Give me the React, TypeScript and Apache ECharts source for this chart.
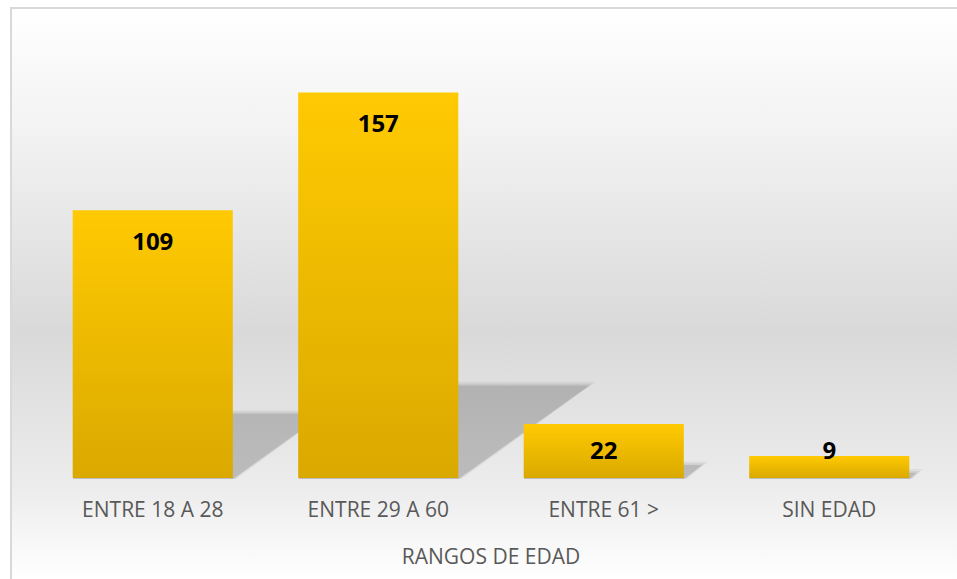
import React, { useEffect, useRef } from "react";
import * as echarts from "echarts";

const categories = ["ENTRE 18 A 28", "ENTRE 29 A 60", "ENTRE 61 >", "SIN EDAD"];
const values = [109, 157, 22, 9];
const axisName = "RANGOS DE EDAD";

export default function App() {
  const ref = useRef<HTMLDivElement>(null);
  useEffect(() => {
    if (!ref.current) return;
    const chart = echarts.init(ref.current, null, { renderer: "svg" });
    const labelDistance = (v: number) => {
      const px = v * 2.455;
      if (px >= 60) return 18;
      if (px >= 40) return 14;
      return -18;
    };
    const layers = [
      { grow: 6, alpha: 0.05 },
      { grow: 3, alpha: 0.06 },
      { grow: 0, alpha: 0.1 },
    ];
    chart.setOption({
      animation: false,
      backgroundColor: "#ffffff",
      graphic: [
        {
          type: "rect",
          z: -10,
          silent: true,
          shape: { x: 11, y: 8, width: 960, height: 590 },
          style: {
            fill: new echarts.graphic.LinearGradient(0, 0, 0, 1, [
              { offset: 0, color: "#ffffff" },
              { offset: 0.2, color: "#f3f3f3" },
              { offset: 0.55, color: "#d9d9d9" },
              { offset: 0.82, color: "#ededed" },
              { offset: 0.97, color: "#ffffff" },
              { offset: 1, color: "#ffffff" },
            ]),
            stroke: "#d9d9d9",
            lineWidth: 2,
          },
        },
      ],
      grid: { left: 40, right: 15, top: 36, bottom: 101 },
      xAxis: {
        type: "category",
        data: categories,
        name: axisName,
        nameLocation: "middle",
        nameGap: 67,
        nameTextStyle: { color: "#595959", fontSize: 21, fontFamily: "Open Sans" },
        axisLine: { show: false },
        axisTick: { show: false },
        axisLabel: { color: "#595959", fontSize: 21, fontFamily: "Open Sans", margin: 20 },
      },
      yAxis: {
        type: "value",
        min: 0,
        max: 180,
        show: false,
        splitLine: { show: false },
      },
      series: [
        {
          type: "custom",
          z: 1,
          silent: true,
          data: values.map((v, i) => [i, v]),
          encode: { x: 0, y: 1 },
          renderItem: (params: any, api: any) => {
            const base = api.coord([api.value(0), 0]);
            const top = api.coord([api.value(0), api.value(1)]);
            const h = base[1] - top[1];
            const w = api.size([1, 0])[0] * 0.71;
            const x0 = base[0] - w / 2;
            const x1 = base[0] + w / 2;
            const dx = h * 0.34;
            const dy = h * 0.24;
            return {
              type: "group",
              children: layers.map((l) => ({
                type: "polygon",
                shape: {
                  points: [
                    [x0, base[1] + 1],
                    [x1 + l.grow * 0.5, base[1] + 1],
                    [x1 + dx + l.grow, base[1] - dy - l.grow * 0.6],
                    [x0 + dx, base[1] - dy - l.grow * 0.6],
                  ],
                },
                style: { fill: `rgba(0,0,0,${l.alpha})` },
              })),
            };
          },
        },
        {
          type: "bar",
          z: 2,
          barWidth: "71%",
          data: values.map((v) => ({
            value: v,
            label: { distance: labelDistance(v) },
          })),
          itemStyle: {
            color: new echarts.graphic.LinearGradient(0, 0, 0, 1, [
              { offset: 0, color: "#FFCA02" },
              { offset: 1, color: "#DAA900" },
            ]),
          },
          label: {
            show: true,
            position: "insideTop",
            color: "#000000",
            fontWeight: "bold",
            fontSize: 24,
            lineHeight: 24,
            fontFamily: "Open Sans",
          },
        },
      ],
    });
    return () => chart.dispose();
  }, []);
  return (
    <div
      ref={ref}
      style={{ position: "absolute", left: 0, top: 0, width: 957, height: 579 }}
    />
  );
}
